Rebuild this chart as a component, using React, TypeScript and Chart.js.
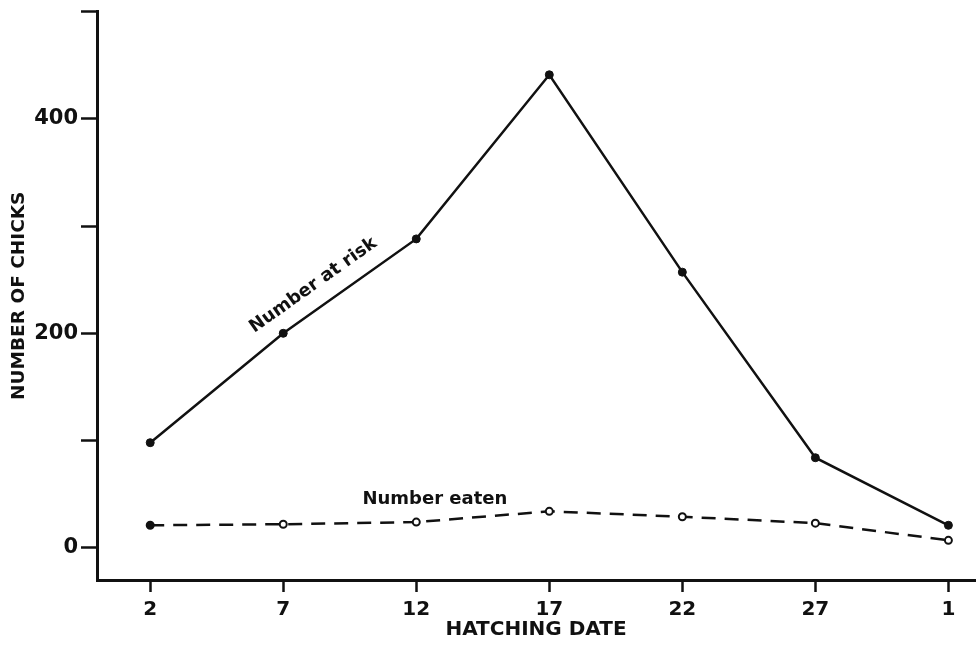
import React, { useEffect, useRef } from 'react';
import { Chart, registerables } from 'chart.js';

Chart.register(...registerables);

// ---- data ----
const dateValues = [2, 7, 12, 17, 22, 27, 32];
const dateLabels = ['2', '7', '12', '17', '22', '27', '1'];
const atRisk = [98, 200, 288, 441, 257, 84, 21];
const eaten = [21, 22, 24, 34, 29, 23, 7];
const yTickValues = [0, 100, 200, 300, 400, 500];
const yLabelledValues = [0, 200, 400];
const xTitle = 'HATCHING DATE';
const yTitle = 'NUMBER OF CHICKS';
const atRiskLabel = 'Number at risk';
const eatenLabel = 'Number eaten';

const FONT = "'DejaVu Sans', sans-serif";
const INK = '#111';

function interp(arr: number[], v: number): number {
  for (let i = 0; i < dateValues.length - 1; i++) {
    const a = dateValues[i], b = dateValues[i + 1];
    if (v >= a && v <= b) {
      const t = (v - a) / (b - a);
      return arr[i] + t * (arr[i + 1] - arr[i]);
    }
  }
  return arr[arr.length - 1];
}

const seriesLabelPlugin = {
  id: 'seriesLabels',
  afterDatasetsDraw(chart: any) {
    const { ctx, scales } = chart;
    const x = scales.x, y = scales.y;
    ctx.save();
    ctx.fillStyle = INK;
    ctx.font = `bold 18px ${FONT}`;
    ctx.textAlign = 'center';
    ctx.textBaseline = 'alphabetic';

    // "Number at risk" along the 7 -> 12 segment
    const v1 = 8.6;
    const px = x.getPixelForValue(v1);
    const py = y.getPixelForValue(interp(atRisk, v1));
    const ax = x.getPixelForValue(dateValues[1]);
    const ay = y.getPixelForValue(atRisk[1]);
    const bx = x.getPixelForValue(dateValues[2]);
    const by = y.getPixelForValue(atRisk[2]);
    const ang = Math.atan2(by - ay, bx - ax);
    ctx.translate(px, py);
    ctx.rotate(ang);
    ctx.fillText(atRiskLabel, 0, -17);
    ctx.restore();

    // "Number eaten"
    ctx.save();
    ctx.fillStyle = INK;
    ctx.font = `bold 18px ${FONT}`;
    ctx.textAlign = 'center';
    ctx.textBaseline = 'alphabetic';
    const v2 = 12.7;
    const ex = x.getPixelForValue(v2);
    const ey = y.getPixelForValue(interp(eaten, v2));
    ctx.fillText(eatenLabel, ex, ey - 17);
    ctx.restore();
  },
};

export default function App() {
  const canvasRef = useRef<HTMLCanvasElement | null>(null);

  useEffect(() => {
    if (!canvasRef.current) return;
    const chart = new Chart(canvasRef.current, {
      type: 'line',
      data: {
        datasets: [
          {
            label: atRiskLabel,
            data: dateValues.map((d, i) => ({ x: d, y: atRisk[i] })),
            borderColor: INK,
            borderWidth: 2.5,
            pointRadius: 4,
            pointBackgroundColor: INK,
            pointBorderColor: INK,
            pointBorderWidth: 1,
            tension: 0,
            clip: false as any,
          },
          {
            label: eatenLabel,
            data: dateValues.map((d, i) => ({ x: d, y: eaten[i] })),
            borderColor: INK,
            borderWidth: 2.5,
            borderDash: [14, 9],
            pointRadius: 3.5,
            pointBackgroundColor: dateValues.map((_, i) => (i === 0 ? INK : '#fff')),
            pointBorderColor: INK,
            pointBorderWidth: 2,
            tension: 0,
            clip: false as any,
          },
        ],
      },
      options: {
        animation: false,
        responsive: true,
        maintainAspectRatio: false,
        layout: { autoPadding: false, padding: { top: 11.5, right: 2, left: 0, bottom: 0 } },
        plugins: {
          legend: { display: false },
          tooltip: { enabled: false },
        },
        scales: {
          x: {
            type: 'linear',
            min: 0,
            max: 33,
            afterBuildTicks: (scale: any) => {
              scale.ticks = dateValues.map((v) => ({ value: v }));
            },
            afterFit: (scale: any) => {
              scale.height = 70;
              scale.paddingLeft = 0;
              scale.paddingRight = 0;
            },
            ticks: {
              autoSkip: false,
              maxRotation: 0,
              padding: 6,
              color: INK,
              font: { family: FONT, size: 20, weight: 'bold' },
              callback: (value: any) => {
                const i = dateValues.indexOf(Number(value));
                return i >= 0 ? dateLabels[i] : '';
              },
            },
            grid: {
              drawOnChartArea: false,
              drawTicks: true,
              tickLength: 12,
              tickWidth: 2.5,
              tickColor: INK,
            },
            border: { display: true, color: INK, width: 3 },
            title: {
              display: true,
              text: xTitle,
              color: INK,
              font: { family: FONT, size: 20, weight: 'bold' },
              padding: { top: 0, bottom: 8 },
            },
          },
          y: {
            type: 'linear',
            min: -30,
            max: 500,
            afterBuildTicks: (scale: any) => {
              scale.ticks = yTickValues.map((v) => ({ value: v }));
            },
            afterFit: (scale: any) => {
              scale.width = 97;
              scale.paddingTop = 0;
              scale.paddingBottom = 0;
            },
            ticks: {
              autoSkip: false,
              padding: 3,
              color: INK,
              font: { family: FONT, size: 21, weight: 'bold' },
              callback: (value: any) =>
                yLabelledValues.includes(Number(value)) ? String(value) : '',
            },
            grid: {
              drawOnChartArea: false,
              drawTicks: true,
              tickLength: 16,
              tickWidth: 2.5,
              tickColor: INK,
            },
            border: { display: true, color: INK, width: 3 },
            title: {
              display: true,
              text: yTitle,
              color: INK,
              font: { family: FONT, size: 18.5, weight: 'bold' },
              padding: { top: 8, bottom: 0 },
            },
          },
        },
      } as any,
      plugins: [seriesLabelPlugin],
    });
    return () => chart.destroy();
  }, []);

  return (
    <div style={{ position: 'absolute', left: 0, top: 0, width: 977, height: 650, background: '#fff' }}>
      <canvas ref={canvasRef} />
    </div>
  );
}
